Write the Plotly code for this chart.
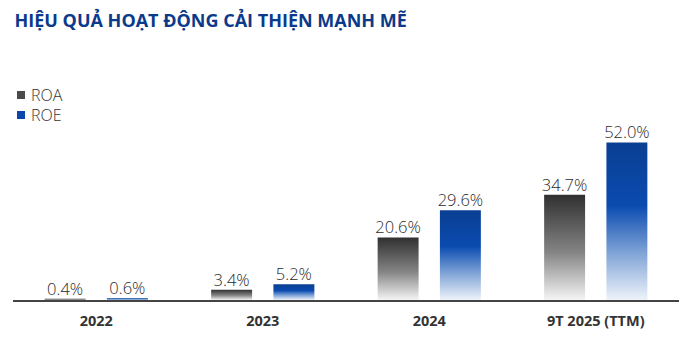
import plotly.graph_objects as go

# Data
categories = ["2022", "2023", "2024", "9T 2025 (TTM)"]
roa = [0.4, 3.4, 20.6, 34.7]
roe = [0.6, 5.2, 29.6, 52.0]
roa_labels = ["0.4%", "3.4%", "20.6%", "34.7%"]
roe_labels = ["0.6%", "5.2%", "29.6%", "52.0%"]
series_names = ["ROA", "ROE"]

# Styling
TITLE = "HIỆU QUẢ HOẠT ĐỘNG CẢI THIỆN MẠNH MẼ"
NAVY = "#0b3a8a"
ROA_SCALE = [[0, "#f5f5f5"], [0.45, "#858585"], [1, "#303030"]]
ROE_SCALE = [[0, "#eef3fa"], [0.3, "#7fa3d6"], [0.6, "#0a4bb0"], [1, "#0a3f92"]]
SWATCH_COLORS = ["#4a4a4a", "#0a47a8"]
BAR_W = 0.246
OFFSET = 0.187
LABEL_FONT = dict(family="Open Sans", size=16.5, color="#2a2a2a", weight=300)

W, H = 690, 346
ML, MR, MT, MB = 13, 11, 80, 46
PW, PH = W - ML - MR, H - MT - MB


def px_to_paper(px, py):
    return (px - ML) / PW, (H - MB - py) / PH


fig = go.Figure()


def add_bar(xc, val, scale):
    x0, x1 = xc - BAR_W / 2, xc + BAR_W / 2
    fig.add_trace(go.Scatter(
        x=[x0, x1, x1, x0, x0],
        y=[0, 0, val, val, 0],
        mode="lines",
        line=dict(width=0),
        fill="toself",
        fillgradient=dict(type="vertical", colorscale=scale),
        hoverinfo="skip",
        showlegend=False,
    ))


for i, (a, e) in enumerate(zip(roa, roe)):
    add_bar(i - OFFSET, a, ROA_SCALE)
    add_bar(i + OFFSET, e, ROE_SCALE)

# Value labels
fig.add_trace(go.Scatter(
    x=[i - OFFSET for i in range(len(categories))], y=roa,
    mode="text", text=roa_labels, textposition="top center",
    textfont=LABEL_FONT, hoverinfo="skip", showlegend=False,
))
fig.add_trace(go.Scatter(
    x=[i + OFFSET for i in range(len(categories))], y=roe,
    mode="text", text=roe_labels, textposition="top center",
    textfont=LABEL_FONT, hoverinfo="skip", showlegend=False,
))

# Legend (drawn as swatches + text)
for k, (name, col) in enumerate(zip(series_names, SWATCH_COLORS)):
    cy = 95 + 20 * k
    x0, y0 = px_to_paper(17, cy + 4)
    x1, y1 = px_to_paper(25, cy - 4)
    fig.add_shape(type="rect", xref="paper", yref="paper",
                  x0=x0, x1=x1, y0=y0, y1=y1,
                  fillcolor=col, line=dict(width=0))
    tx, ty = px_to_paper(29, cy)
    fig.add_annotation(x=tx, y=ty, xref="paper", yref="paper",
                       text=name, showarrow=False,
                       xanchor="left", yanchor="middle",
                       font=dict(family="Open Sans", size=16, color="#333333", weight=300))

fig.update_layout(
    width=W, height=H,
    margin=dict(l=ML, r=MR, t=MT, b=MB),
    paper_bgcolor="white", plot_bgcolor="white",
    showlegend=False,
    title=dict(
        text=TITLE, xref="container", yref="container",
        x=0.021, xanchor="left", y=1 - 21 / H, yanchor="middle",
        font=dict(family="Open Sans", size=18, color=NAVY, weight=700),
    ),
    xaxis=dict(
        range=[-0.5, 3.5], tickmode="array",
        tickvals=list(range(len(categories))), ticktext=categories,
        showgrid=False, zeroline=False, showline=True,
        linecolor="#444444", linewidth=2, ticks="",
        tickfont=dict(family="Open Sans", size=14.5, color="#333333", weight=700),
        ticklabelstandoff=7, fixedrange=True,
    ),
    yaxis=dict(
        range=[0, 72.6], visible=False, showgrid=False, zeroline=False,
        fixedrange=True,
    ),
)

fig.write_html("out.html", config={"displayModeBar": False})
